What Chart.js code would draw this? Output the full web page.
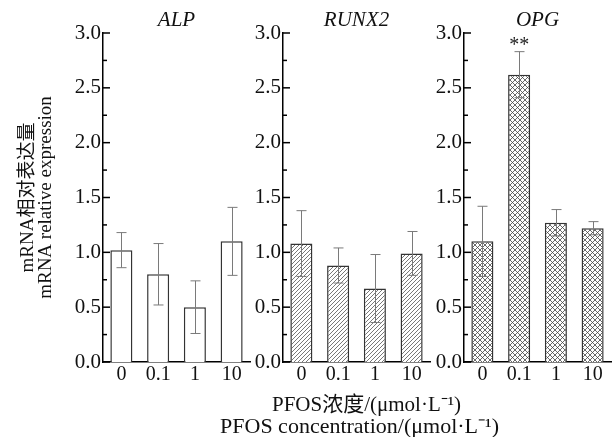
<!DOCTYPE html>
<html>
<head>
<meta charset="utf-8">
<script src="https://cdn.jsdelivr.net/npm/chart.js@4/dist/chart.umd.min.js"></script>
<style>
  html, body { margin: 0; padding: 0; background: #fff; }
  #wrap { position: relative; width: 613px; height: 437px; }
  canvas { position: absolute; left: 0; top: 0; }
</style>
</head>
<body>
<div id="wrap">
  <canvas id="c1" width="613" height="437"></canvas>
  <canvas id="c2" width="613" height="437"></canvas>
  <canvas id="c3" width="613" height="437"></canvas>
</div>
<script>
// ---- data ----
const categories = ['0', '0.1', '1', '10'];
const yTicks = [0.0, 0.5, 1.0, 1.5, 2.0, 2.5, 3.0];

const alpMean   = [1.02, 0.80, 0.50, 1.10];
const alpSD     = [0.16, 0.28, 0.24, 0.31];
const runx2Mean = [1.08, 0.88, 0.67, 0.99];
const runx2SD   = [0.30, 0.16, 0.31, 0.20];
const opgMean   = [1.10, 2.62, 1.27, 1.22];
const opgSD     = [0.32, 0.21, 0.12, 0.06];
const opgSig    = ['', '**', '', ''];

const panelTitles = ['ALP', 'RUNX2', 'OPG'];
const yTitle = ['mRNA相对表达量', 'mRNA relative expression'];
const xTitle = ['PFOS浓度/(μmol·L⁻¹)', 'PFOS concentration/(μmol·L⁻¹)'];

// ---- styling ----
const FONT = "'Liberation Serif', 'Noto Sans CJK SC', serif";

function hatchPattern() {
  const c = document.createElement('canvas');
  c.width = 4; c.height = 4;
  const g = c.getContext('2d');
  g.fillStyle = '#fff'; g.fillRect(0, 0, 4, 4);
  g.strokeStyle = '#555'; g.lineWidth = 0.8;
  g.beginPath();
  g.moveTo(-1, 5); g.lineTo(5, -1);
  g.moveTo(-1, 1); g.lineTo(1, -1);
  g.moveTo(3, 5); g.lineTo(5, 3);
  g.stroke();
  return g.createPattern(c, 'repeat');
}
function crossPattern() {
  const s = 5;
  const c = document.createElement('canvas');
  c.width = s; c.height = s;
  const g = c.getContext('2d');
  g.fillStyle = '#fff'; g.fillRect(0, 0, s, s);
  g.strokeStyle = '#444'; g.lineWidth = 0.8;
  g.beginPath();
  g.moveTo(0, 0); g.lineTo(s, s);
  g.moveTo(0, s); g.lineTo(s, 0);
  g.stroke();
  return g.createPattern(c, 'repeat');
}

const extras = {
  id: 'extras',
  afterDatasetsDraw(chart, args, opts) {
    const ctx = chart.ctx;
    const ys = chart.scales.y, area = chart.chartArea;
    const meta = chart.getDatasetMeta(0);
    const mean = opts.mean, sd = opts.sd, sig = opts.sig || [];
    const cx = (area.left + area.right) / 2;
    ctx.save();
    // panel title
    ctx.fillStyle = '#111';
    ctx.font = 'italic 21px ' + FONT;
    ctx.textAlign = 'center';
    ctx.textBaseline = 'middle';
    ctx.fillText(opts.title, cx, 20);
    // shared x-axis title
    if (opts.xTitle) {
      ctx.font = '21px ' + FONT;
      ctx.fillText(opts.xTitle[0], cx + 10, 405);
      ctx.font = '22px ' + FONT;
      ctx.fillText(opts.xTitle[1], cx + 3, 427);
    }
    // error bars
    ctx.strokeStyle = '#7a7a7a';
    ctx.lineWidth = 1;
    meta.data.forEach((bar, i) => {
      const x = Math.round(bar.x) + 0.5;
      const yHi = ys.getPixelForValue(mean[i] + sd[i]);
      const yLo = ys.getPixelForValue(mean[i] - sd[i]);
      ctx.beginPath();
      ctx.moveTo(x, yHi); ctx.lineTo(x, yLo);
      ctx.moveTo(x - 5, yHi); ctx.lineTo(x + 5, yHi);
      ctx.moveTo(x - 5, yLo); ctx.lineTo(x + 5, yLo);
      ctx.stroke();
      if (sig[i]) {
        ctx.fillStyle = '#222';
        ctx.font = '20px ' + FONT;
        ctx.textAlign = 'center';
        ctx.textBaseline = 'alphabetic';
        ctx.fillText(sig[i], bar.x, yHi - 1);
      }
    });
    // inward ticks on y axis (major every 0.5, minor every 0.25)
    ctx.strokeStyle = '#000';
    ctx.lineWidth = 1.5;
    for (let k = 0; k <= 12; k++) {
      const v = k * 0.25;
      const y = ys.getPixelForValue(v);
      const len = (k % 2 === 0) ? 7 : 4;
      ctx.beginPath();
      ctx.moveTo(area.left, y); ctx.lineTo(area.left + len, y);
      ctx.stroke();
    }
    ctx.restore();
  }
};

function makeChart(id, idx, mean, sd, fill, sig, padL, yWidth, padR, showYTitle, showXTitle) {
  return new Chart(document.getElementById(id), {
    type: 'bar',
    data: {
      labels: categories,
      datasets: [{
        data: mean,
        backgroundColor: fill,
        borderColor: '#333',
        borderWidth: 1.5,
        barPercentage: 0.6,
        categoryPercentage: 1.0
      }]
    },
    options: {
      responsive: false,
      animation: false,
      devicePixelRatio: 1,
      layout: { padding: { left: padL, right: padR, top: 33, bottom: 0 } },
      plugins: {
        legend: { display: false },
        tooltip: { enabled: false },
        title: { display: false },
        extras: { mean: mean, sd: sd, sig: sig, title: panelTitles[idx], xTitle: showXTitle ? xTitle : null }
      },
      scales: {
        x: {
          offset: true,
          grid: { display: false, drawTicks: false },
          border: { display: true, color: '#000', width: 1.5 },
          ticks: { color: '#111', padding: 1, font: { family: FONT, size: 20 } },
          afterFit(s) { s.height = 75; }
        },
        y: {
          min: 0, max: 3,
          afterBuildTicks(s) { s.ticks = yTicks.map(v => ({ value: v })); },
          grid: { display: false, drawTicks: false },
          border: { display: true, color: '#000', width: 1.5 },
          ticks: {
            color: '#111', padding: 2,
            font: { family: FONT, size: 21 },
            callback: v => Number(v).toFixed(1)
          },
          title: {
            display: showYTitle,
            text: yTitle,
            color: '#111',
            font: { family: FONT, size: 19, lineHeight: 0.95 },
            padding: { top: 19, bottom: 0 }
          },
          afterFit(s) { s.width = yWidth; }
        }
      }
    },
    plugins: [extras]
  });
}

makeChart('c1', 0, alpMean,   alpSD,   '#ffffff',      [],     0,   103, 363, true,  false);
makeChart('c2', 1, runx2Mean, runx2SD, hatchPattern(), [],     238, 45,  183, false, true);
makeChart('c3', 2, opgMean,   opgSD,   crossPattern(), opgSig, 419, 45,  2,   false, false);
</script>
</body>
</html>
